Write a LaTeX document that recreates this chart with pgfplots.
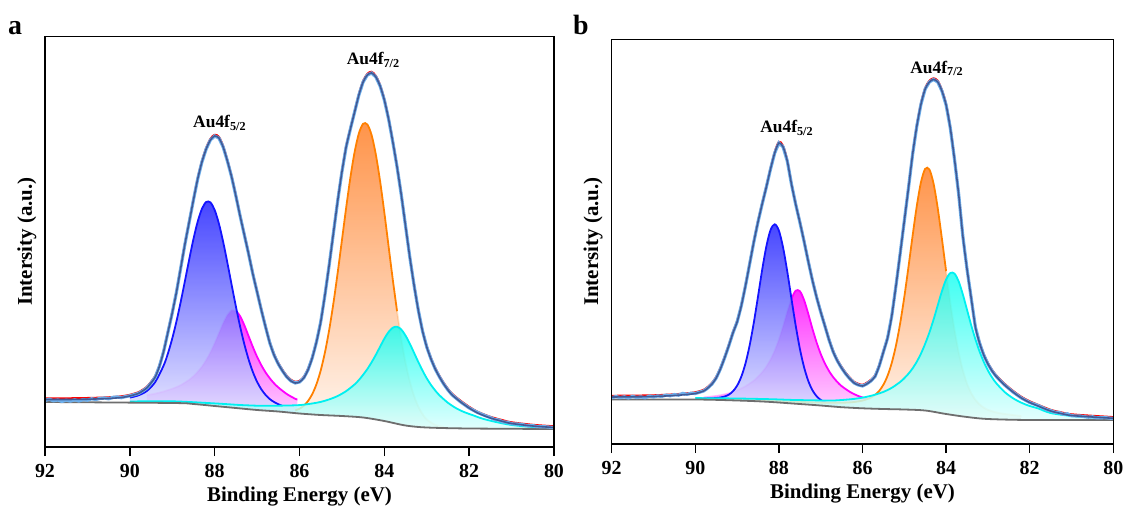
\documentclass[border=0pt]{standalone}
\usepackage{fontspec}
\setmainfont{Liberation Serif}
\usepackage{pgfplots}
\usepackage{pgfplotstable}
\pgfplotsset{compat=1.18}

\definecolor{cBlue}{RGB}{20,20,255}
\definecolor{cMag}{RGB}{255,0,255}
\definecolor{cOra}{RGB}{255,128,0}
\definecolor{cCya}{RGB}{0,240,240}
\definecolor{cGray}{RGB}{110,110,110}
\definecolor{cFit}{RGB}{65,90,150}
\definecolor{cHalo}{RGB}{110,175,235}
\definecolor{cRed}{RGB}{255,0,0}
\definecolor{fBlueT}{RGB}{30,30,255}
\definecolor{fBlueM}{RGB}{178,182,252}
\definecolor{fBlueB}{RGB}{255,255,255}
\definecolor{fMagT}{RGB}{255,0,255}
\definecolor{fMagM}{RGB}{255,175,250}
\definecolor{fMagB}{RGB}{255,255,255}
\definecolor{fOraT}{RGB}{255,125,35}
\definecolor{fOraM}{RGB}{249,185,165}
\definecolor{fOraB}{RGB}{255,252,250}
\definecolor{fCyaT}{RGB}{20,255,240}
\definecolor{fCyaM}{RGB}{175,255,250}
\definecolor{fCyaB}{RGB}{255,255,255}

% ---------------- panel a ----------------
\pgfplotstableread{
E y
92 45
89 44
88.5 43
88 41
87.5 39
87 37
86.5 35.5
86 33.5
85.5 32
85 31
84.5 29.5
84 26
83.5 21.5
83 19.5
82 18.5
80 18
}\bgA

\pgfplotstableread{
E y
90.0 49.4
89.8 51.6
89.6 56.0
89.4 65.1
89.2 81.8
89.1 93.8
89.0 108.5
88.9 125.7
88.8 145.2
88.7 166.2
88.6 187.6
88.5 208.0
88.4 225.4
88.3 238.2
88.2 245.0
88.1 244.6
88.0 237.0
87.9 223.4
87.8 205.2
87.7 184.2
87.6 162.2
87.5 140.6
87.4 120.5
87.3 102.7
87.2 87.6
87.1 75.1
87.0 65.2
86.9 57.7
86.8 52.1
86.7 47.9
86.6 45.0
86.5 42.8
86.4 41.0
}\blueA

\pgfplotstableread{
E y
89.6 51.9
89.4 53.4
89.2 55.6
89.0 58.3
88.8 61.9
88.6 67.3
88.5 70.9
88.4 75.2
88.3 80.4
88.2 86.9
88.1 94.6
88.0 103.7
87.9 113.7
87.8 123.7
87.7 132.0
87.6 136.7
87.5 136.3
87.4 130.8
87.3 121.7
87.2 110.9
87.1 100.1
87.0 90.2
86.9 81.8
86.8 74.6
86.7 68.7
86.6 63.7
86.5 59.6
86.3 53.0
86.1 48.2
86.05 47.6
}\magA

\pgfplotstableread{
E y
86.1 36.6
86.0 38.3
85.9 41.2
85.8 45.9
85.7 52.8
85.6 62.8
85.5 76.5
85.4 94.6
85.3 117.1
85.2 143.9
85.1 174.2
85.0 206.6
84.9 239.2
84.8 269.5
84.7 295.1
84.6 313.6
84.5 323.2
84.4 322.5
84.3 311.9
84.2 292.4
84.1 265.8
84.0 234.5
83.9 200.7
83.8 167.2
83.7 135.8
83.6 107.9
83.5 84.3
83.4 65.6
83.3 51.2
83.2 40.5
83.1 32.9
83.0 27.5
82.8 22.1
82.6 19.9
}\oraA

\pgfplotstableread{
E y
90.0 45.5
89.0 45.7
88.0 43.6
87.4 42.0
86.9 41.2
86.4 41.4
86.0 41.9
85.7 43.5
85.5 45.1
85.3 47.6
85.1 51.0
84.9 55.9
84.7 62.6
84.6 67.0
84.5 72.2
84.4 78.0
84.3 84.7
84.2 92.2
84.1 100.3
84.0 108.3
83.9 115.0
83.8 119.3
83.7 120.3
83.6 117.5
83.5 111.4
83.4 103.4
83.3 94.3
83.2 85.1
83.1 76.5
83.0 68.7
82.9 62.1
82.8 56.5
82.7 51.7
82.5 44.2
82.3 38.6
82.1 34.6
81.9 31.6
81.7 28.5
81.4 25.3
81.0 22.0
80.5 20.0
80.0 19.0
}\cyaA

\pgfplotstableread{
E y
92.0 47.5
91.5 47.5
91.0 47.8
90.5 48.5
90.2 49.5
90.0 51
89.8 53.5
89.7 56
89.6 59
89.5 64
89.4 70
89.3 81
89.2 96
89.1 115
89.0 134
88.9 155
88.8 179
88.7 203
88.6 225
88.5 247
88.4 268
88.3 285
88.2 298
88.1 307
88.0 311
87.9 309
87.8 300
87.7 286
87.6 270
87.5 251
87.4 231
87.3 212
87.2 193
87.1 173
87.0 155
86.9 137
86.8 120
86.7 104
86.6 92
86.5 83
86.4 76
86.3 70
86.2 66
86.1 64
86.0 65
85.9 69
85.8 77
85.7 89
85.6 105
85.5 125
85.4 152
85.3 182
85.2 214
85.1 246
85.0 275
84.9 300
84.8 318
84.7 335
84.6 352
84.5 365
84.4 372
84.3 374
84.2 370
84.1 361
84.0 347
83.9 328
83.8 305
83.7 280
83.6 252
83.5 221
83.4 190
83.3 162
83.2 137
83.1 116
83.0 100
82.9 88
82.8 78
82.7 70
82.6 63
82.5 57
82.4 52
82.2 45
82.0 39
81.8 34
81.5 29
81.2 25.5
81.0 23.5
80.5 21
80.0 19.5
}\envA

\pgfplotstableread{
E y
92.0 46.5
91.9 47.8
91.8 46.2
91.7 47.0
91.6 45.6
91.5 46.8
91.4 45.9
91.3 47.2
91.2 46.0
91.1 47.4
91.0 46.8
90.9 48.2
90.8 47.5
90.7 48.6
90.6 49.0
90.5 48.2
90.4 49.6
90.3 50.1
90.2 49.3
90.1 50.4
90.0 51.2
89.8 53.5
89.7 56
89.6 59
89.5 64
89.4 70
89.3 81
89.2 96
89.1 115
89.0 134
88.9 155
88.8 179
88.7 203
88.6 225
88.5 247
88.4 268
88.3 285
88.2 298
88.1 307
88.0 311
87.9 309
87.8 300
87.7 286
87.6 270
87.5 251
87.4 231
87.3 212
87.2 193
87.1 173
87.0 155
86.9 137
86.8 120
86.7 104
86.6 92
86.5 83
86.4 76
86.3 70
86.2 66
86.1 64
86.0 65
85.9 69
85.8 77
85.7 89
85.6 105
85.5 125
85.4 152
85.3 182
85.2 214
85.1 246
85.0 275
84.9 300
84.8 318
84.7 335
84.6 352
84.5 365
84.4 372
84.3 374
84.2 370
84.1 361
84.0 347
83.9 328
83.8 305
83.7 280
83.6 252
83.5 221
83.4 190
83.3 162
83.2 137
83.1 116
83.0 100
82.9 88
82.8 78
82.7 70
82.6 63
82.5 57
82.4 52
82.2 45
82.0 39
81.8 34.5
81.6 31
81.5 29.5
81.4 27.5
81.3 27
81.2 25
81.1 24.8
81.0 23.2
80.8 22.8
80.6 21.2
80.5 21.4
80.4 20.4
80.2 20.2
80.0 19.4
}\rawA

% ---------------- panel b ----------------
\pgfplotstableread{
E y
92 44.5
90 44.5
89 43.5
88.3 42.3
87.5 40
87 38.5
86.5 36.8
86 35.7
85.5 35
85 34.5
84.5 33.5
84 30
83.5 27
83 25
82 24
80 24
}\bgB

\pgfplotstableread{
E y
90.0 45.5
89.6 45.7
89.4 46.5
89.3 47.5
89.2 49.3
89.1 52.7
89.0 58.3
88.9 67.3
88.8 80.5
88.7 98.6
88.6 121.4
88.5 147.4
88.4 174.2
88.3 197.7
88.2 214.0
88.1 219.7
88.0 213.4
87.9 196.5
87.8 172.6
87.7 145.4
87.6 118.9
87.5 95.6
87.4 77.1
87.3 63.4
87.2 53.9
87.1 47.9
87.0 44.1
86.9 41.9
86.8 40.4
86.6 38.8
}\blueB

\pgfplotstableread{
E y
89.8 46.7
89.6 47.5
89.4 48.7
89.2 50.6
89.0 53.6
88.8 57.8
88.6 63.4
88.5 67.3
88.4 71.8
88.3 77.4
88.2 84.4
88.1 93.3
88.0 104.4
87.9 117.6
87.8 132.1
87.7 145.1
87.6 153.2
87.5 152.9
87.4 144.2
87.3 130.6
87.2 115.6
87.1 101.8
87.0 90.1
86.9 80.6
86.8 72.9
86.7 66.8
86.6 61.9
86.5 57.9
86.3 52.1
86.1 48.0
85.9 45.2
}\magB

\pgfplotstableread{
E y
90.0 45.1
88.9 44.3
88.3 43.6
87.7 42.4
87.1 41.5
86.7 41.2
86.4 41.4
86.2 42.0
86.0 43.4
85.9 44.7
85.8 46.4
85.7 49.1
85.6 53.1
85.5 59.3
85.4 68.3
85.3 81.1
85.2 98.3
85.1 120.4
85.0 147.0
84.9 177.1
84.8 208.6
84.7 238.3
84.6 262.0
84.5 275.2
84.4 274.5
84.3 260.4
84.2 235.8
84.1 205.2
84.0 172.8
83.9 141.9
83.8 114.6
83.7 91.8
83.6 73.9
83.5 60.4
83.4 50.9
83.3 44.2
83.2 39.6
83.1 36.4
83.0 34.1
82.8 31.5
82.6 30.0
82.2 27.9
}\oraB

\pgfplotstableread{
E y
90.0 45.9
89.0 45.5
88.2 44.8
87.7 44.1
87.2 43.7
86.7 43.5
86.2 45.1
85.9 47.2
85.7 49.3
85.5 52.1
85.3 56.2
85.1 62.0
85.0 65.8
84.9 70.3
84.8 75.7
84.7 82.4
84.6 90.5
84.5 100.3
84.4 111.5
84.3 124.4
84.2 138.7
84.1 152.8
84.0 164.5
83.9 171.0
83.8 170.4
83.7 162.7
83.6 149.7
83.5 134.3
83.4 118.9
83.3 104.9
83.2 92.6
83.1 82.2
83.0 73.5
82.9 66.5
82.8 60.8
82.6 52.0
82.4 45.8
82.2 41.3
82.0 38.0
81.8 35.6
81.5 31.0
81.0 28.0
80.5 26.5
80.0 25.5
}\cyaB

\pgfplotstableread{
E y
92.0 47
91.5 47.2
91.0 47.5
90.5 48.5
90.2 49.5
90.0 50.5
89.8 53
89.7 56
89.6 60
89.5 66
89.4 75
89.3 86
89.2 98
89.1 111
89.0 122
88.9 138
88.8 158
88.7 180
88.6 202
88.5 222
88.4 240
88.3 257
88.2 275
88.1 291
88.0 301
87.9 297
87.8 283
87.7 260
87.6 240
87.5 222
87.4 203
87.3 183
87.2 164
87.1 147
87.0 132
86.9 118
86.8 104
86.7 92
86.6 83
86.5 76
86.4 70
86.3 65
86.2 61
86.1 59
86.0 58
85.9 60
85.8 63
85.7 67.5
85.6 78
85.5 92
85.4 106
85.3 128
85.2 158
85.1 190
85.0 223
84.9 256
84.8 290
84.7 318
84.6 340
84.5 355
84.4 362
84.3 364.5
84.2 362
84.1 353
84.0 339
83.9 316
83.8 285
83.7 250
83.6 208
83.5 175
83.4 146
83.3 117
83.2 101
83.1 89
83.0 80
82.9 73
82.8 67.5
82.6 59
82.4 52
82.2 46
82.0 41.5
81.8 38
81.5 33
81.2 30
81.0 28.5
80.5 27
80.0 25.7
}\envB

\pgfplotstableread{
E y
92.0 46.2
91.9 47.5
91.8 46.4
91.7 47.2
91.6 46.0
91.5 47.6
91.4 46.5
91.3 47.1
91.2 46.2
91.1 47.9
91.0 47.0
90.9 48.1
90.8 47.6
90.7 48.9
90.6 48.2
90.5 49.4
90.4 48.8
90.3 50.6
90.2 49.6
90.1 50.8
90.0 50.5
89.8 53
89.7 56
89.6 60
89.5 66
89.4 75
89.3 86
89.2 98
89.1 111
89.0 122
88.9 138
88.8 158
88.7 180
88.6 202
88.5 222
88.4 240
88.3 257
88.2 275
88.1 291
88.0 301
87.9 297
87.8 283
87.7 260
87.6 240
87.5 222
87.4 203
87.3 183
87.2 164
87.1 147
87.0 132
86.9 118
86.8 104
86.7 92
86.6 83
86.5 76
86.4 70
86.3 65
86.2 61
86.1 59
86.0 58
85.9 60
85.8 63
85.7 67.5
85.6 78
85.5 92
85.4 106
85.3 128
85.2 158
85.1 190
85.0 223
84.9 256
84.8 290
84.7 318
84.6 340
84.5 355
84.4 362
84.3 364.5
84.2 362
84.1 353
84.0 339
83.9 316
83.8 285
83.7 250
83.6 208
83.5 175
83.4 146
83.3 117
83.2 101
83.1 89
83.0 80
82.9 73
82.8 67.5
82.6 59
82.4 52
82.2 46
82.0 41.5
81.8 38.5
81.6 34.5
81.5 33.4
81.4 31.8
81.3 31.5
81.2 29.8
81.1 30.2
81.0 28.2
80.8 28.0
80.6 26.8
80.5 27.2
80.4 26.2
80.2 26.4
80.0 25.5
}\rawB

\pgfplotsset{
  xpsaxis/.style={
    scale only axis, x dir=reverse, xmin=80, xmax=92, ymin=0,
    xtick={80,82,84,86,88,90,92}, ytick=\empty,
    xtick pos=bottom, tick align=outside, major tick length=9bp,
    axis on top,
    axis line style={line width=1.5bp, black},
    tick style={line width=1.5bp, black},
    xticklabel style={font=\bfseries\fontsize{20}{20}\selectfont, yshift=-5bp},
    /pgf/number format/assume math mode=true,
    xlabel={Binding Energy (eV)},
    ylabel={Intersity (a.u.)},
  },
  comp/.style={draw=none, fill opacity=0.82},
  cline/.style={line width=1.8bp, smooth},
}
\tikzset{
  pk/.style={anchor=base west, inner sep=0pt, font=\bfseries\fontsize{17.5}{17.5}\selectfont},
  plet/.style={anchor=base west, inner sep=0pt, font=\bfseries\fontsize{28}{28}\selectfont},
}

\begin{document}
\begin{tikzpicture}
\useasboundingbox (0,0) rectangle (1126bp,507bp);

% ================= panel a =================
\begin{axis}[xpsaxis,
  at={(45bp,60bp)}, anchor=south west,
  width=509bp, height=410.7bp, ymax=410.7,
  every axis x label/.style={at={(axis description cs:0.5,-0.1315)}, anchor=base, font=\bfseries\fontsize{21}{21}\selectfont},
  every axis y label/.style={at={(axis description cs:-0.0354,0.5)}, rotate=90, anchor=center, font=\bfseries\fontsize{21}{21}\selectfont},
]
\addplot[comp, top color=fMagT, middle color=fMagM, bottom color=fMagB] table[x=E,y=y] {\magA} \closedcycle;
\addplot[cMag, cline, draw opacity=0.25, restrict x to domain=87.5:91] table[x=E,y=y] {\magA};
\addplot[cMag, cline, restrict x to domain=85:87.5] table[x=E,y=y] {\magA};
\addplot[comp, top color=fBlueT, middle color=fBlueM, bottom color=fBlueB] table[x=E,y=y] {\blueA} \closedcycle;
\addplot[cBlue, cline] table[x=E,y=y] {\blueA};
\addplot[comp, top color=fOraT, middle color=fOraM, bottom color=fOraB] table[x=E,y=y] {\oraA} \closedcycle;
\addplot[cOra, cline, restrict x to domain=83.7:87] table[x=E,y=y] {\oraA};
\addplot[cOra, cline, draw opacity=0.2, restrict x to domain=82:83.7] table[x=E,y=y] {\oraA};
\addplot[comp, top color=fCyaT, middle color=fCyaM, bottom color=fCyaB] table[x=E,y=y] {\cyaA} \closedcycle;
\addplot[cCya, cline] table[x=E,y=y] {\cyaA};
\addplot[fill=white, draw=none, smooth] table[x=E,y=y] {\bgA} \closedcycle;
\addplot[cGray, line width=1.8bp, smooth] table[x=E,y=y] {\bgA};
\addplot[cRed, line width=1.8bp, smooth, yshift=1.3bp] table[x=E,y=y] {\envA};
\addplot[cHalo, line width=3.2bp] table[x=E,y=y] {\rawA};
\addplot[cFit, line width=1.6bp, smooth] table[x=E,y=y] {\envA};
\node[pk] at (axis cs:88.51,319.3) {Au4f\textsubscript{5/2}};
\node[pk] at (axis cs:84.89,382) {Au4f\textsubscript{7/2}};
\end{axis}

% ================= panel b =================
\begin{axis}[xpsaxis,
  at={(611.7bp,63bp)}, anchor=south west,
  width=501.6bp, height=404.7bp, ymax=404.7,
  every axis x label/.style={at={(axis description cs:0.5,-0.134)}, anchor=base, font=\bfseries\fontsize{21}{21}\selectfont},
  every axis y label/.style={at={(axis description cs:-0.037,0.5)}, rotate=90, anchor=center, font=\bfseries\fontsize{21}{21}\selectfont},
]
\addplot[comp, top color=fMagT, middle color=fMagM, bottom color=fMagB] table[x=E,y=y] {\magB} \closedcycle;
\addplot[cMag, cline, draw opacity=0.25, restrict x to domain=87.7:91] table[x=E,y=y] {\magB};
\addplot[cMag, cline, restrict x to domain=85:87.7] table[x=E,y=y] {\magB};
\addplot[comp, top color=fBlueT, middle color=fBlueM, bottom color=fBlueB] table[x=E,y=y] {\blueB} \closedcycle;
\addplot[cBlue, cline] table[x=E,y=y] {\blueB};
\addplot[comp, top color=fOraT, middle color=fOraM, bottom color=fOraB] table[x=E,y=y] {\oraB} \closedcycle;
\addplot[cOra, cline, restrict x to domain=84:91] table[x=E,y=y] {\oraB};
\addplot[cOra, cline, draw opacity=0.2, restrict x to domain=82:84] table[x=E,y=y] {\oraB};
\addplot[comp, top color=fCyaT, middle color=fCyaM, bottom color=fCyaB] table[x=E,y=y] {\cyaB} \closedcycle;
\addplot[cCya, cline] table[x=E,y=y] {\cyaB};
\addplot[fill=white, draw=none, smooth] table[x=E,y=y] {\bgB} \closedcycle;
\addplot[cGray, line width=1.8bp, smooth] table[x=E,y=y] {\bgB};
\addplot[cRed, line width=1.8bp, smooth, yshift=1.3bp] table[x=E,y=y] {\envB};
\addplot[cHalo, line width=3.2bp] table[x=E,y=y] {\rawB};
\addplot[cFit, line width=1.6bp, smooth] table[x=E,y=y] {\envB};
\node[pk] at (axis cs:88.45,311.3) {Au4f\textsubscript{5/2}};
\node[pk] at (axis cs:84.86,370.7) {Au4f\textsubscript{7/2}};
\end{axis}

\node[plet] at (8bp,472bp) {a};
\node[plet] at (573bp,472bp) {b};
\end{tikzpicture}
\end{document}
